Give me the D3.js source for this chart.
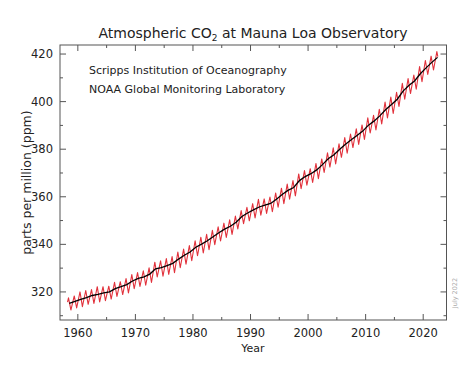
<!DOCTYPE html>
<html>
<head>
<meta charset="utf-8">
<script src="https://cdn.jsdelivr.net/npm/d3@7"></script>
<style>
  body { margin: 0; background: #fff; }
  text { font-family: "DejaVu Sans", sans-serif; }
</style>
</head>
<body>
<svg id="chart"></svg>
<script>
// yearly seasonal maximum (May) and minimum (Sep/Oct), ppm, from 1958
const years = d3.range(1958, 2023);
const peakMay = [317.5, 318.3, 320.0, 320.6, 321.0, 322.2, 322.2, 322.4, 324.0, 324.3,
  325.6, 327.3, 328.1, 328.9, 330.1, 332.5, 333.1, 334.0, 334.9, 336.8,
  338.0, 339.5, 341.5, 343.0, 344.2, 345.9, 347.4, 348.9, 350.3, 351.9,
  354.2, 355.6, 357.1, 358.9, 359.1, 359.9, 361.6, 363.6, 365.3, 366.8,
  369.6, 371.0, 371.8, 374.0, 375.9, 378.5, 380.6, 382.3, 384.9, 386.4,
  388.6, 390.2, 393.2, 394.2, 396.8, 399.8, 401.9, 403.9, 407.7, 409.7,
  411.2, 414.7, 417.3, 419.1, 421.0];
const troughOct = [312.4, 313.3, 313.8, 314.8, 315.2, 315.8, 316.3, 317.0, 318.1, 318.9,
  319.6, 321.4, 322.3, 322.8, 324.0, 326.3, 326.6, 327.4, 328.1, 330.2,
  331.7, 333.1, 335.2, 336.4, 337.8, 339.9, 341.4, 342.9, 344.2, 346.5,
  348.7, 349.9, 351.1, 352.3, 353.0, 353.7, 355.6, 357.1, 359.0, 360.4,
  363.4, 364.9, 366.0, 367.6, 370.2, 372.5, 373.8, 376.6, 378.3, 380.7,
  382.0, 384.1, 386.8, 388.1, 390.6, 393.1, 395.0, 398.0, 401.0, 403.4,
  405.2, 408.4, 411.4, 413.3];
// annual mean (trend), ppm
const annualMean = [315.2, 316.0, 316.9, 317.6, 318.5, 319.0, 319.6, 320.0, 321.4, 322.2,
  323.1, 324.6, 325.7, 326.3, 327.5, 329.7, 330.2, 331.1, 332.0, 333.8,
  335.4, 336.8, 338.8, 340.1, 341.5, 343.2, 344.9, 346.4, 347.6, 349.3,
  351.7, 353.2, 354.5, 355.7, 356.5, 357.2, 359.0, 361.0, 362.7, 363.9,
  366.8, 368.5, 369.7, 371.3, 373.5, 376.0, 377.7, 380.0, 382.1, 384.0,
  385.8, 387.6, 390.1, 391.9, 394.1, 396.7, 398.8, 401.0, 404.4, 406.8,
  408.7, 411.7, 414.2, 416.5, 418.6];
const startMar1958 = 315.7;
const endJul2022 = 418.9;
const xTicks = [1960, 1970, 1980, 1990, 2000, 2010, 2020];
const yTicks = [320, 340, 360, 380, 400, 420];

const W = 474, H = 379;
const margin = { top: 45, right: 27.5, bottom: 59, left: 60 };
const width = W - margin.left - margin.right;
const height = H - margin.top - margin.bottom;

const svg = d3.select('#chart').attr('width', W).attr('height', H);
const chart = svg.append('g').attr('transform', `translate(${margin.left},${margin.top})`);

const x = d3.scaleLinear().domain([1956.9, 2024.05]).range([0, width]);
const y = d3.scaleLinear().domain([308.2, 423.8]).range([height, 0]);

// build the seasonal zigzag from the peak/trough arrays
let seasonal = [[1958 + 2.5 / 12, startMar1958]];
years.forEach((yr, i) => {
  seasonal.push([yr + 4.5 / 12, peakMay[i]]);
  if (troughOct[i] !== undefined) seasonal.push([yr + 9.5 / 12, troughOct[i]]);
});
seasonal.push([2022 + 6.5 / 12, endJul2022]);
const trend = years.map((yr, i) => [yr + 0.5, annualMean[i]]);

const line = d3.line().x(d => x(d[0])).y(d => y(d[1]));

chart.append('path').datum(seasonal)
  .attr('fill', 'none').attr('stroke', '#e2323c').attr('stroke-width', 1.1)
  .attr('stroke-linejoin', 'round').attr('d', line);
chart.append('path').datum(trend)
  .attr('fill', 'none').attr('stroke', '#000').attr('stroke-width', 1.3)
  .attr('d', line);

// axes, IDL style: ticks inward on all four sides
const axisColor = '#555';
const xMinor = d3.range(1960, 2025, 5);
const yMinor = d3.range(310, 424, 10);

chart.append('rect').attr('width', width).attr('height', height)
  .attr('fill', 'none').attr('stroke', axisColor).attr('stroke-width', 1);

const ticks = chart.append('g').attr('stroke', axisColor).attr('stroke-width', 1);
xMinor.forEach(v => {
  const len = xTicks.includes(v) ? 6 : 3;
  ticks.append('line').attr('x1', x(v)).attr('x2', x(v)).attr('y1', height).attr('y2', height - len);
  ticks.append('line').attr('x1', x(v)).attr('x2', x(v)).attr('y1', 0).attr('y2', len);
});
yMinor.forEach(v => {
  const len = yTicks.includes(v) ? 6 : 3;
  ticks.append('line').attr('y1', y(v)).attr('y2', y(v)).attr('x1', 0).attr('x2', len);
  ticks.append('line').attr('y1', y(v)).attr('y2', y(v)).attr('x1', width).attr('x2', width - len);
});

chart.selectAll('.xlab').data(xTicks).join('text')
  .attr('x', d => x(d)).attr('y', height + 17)
  .attr('text-anchor', 'middle').attr('font-size', 11.5).attr('fill', '#222')
  .text(d => d);
chart.selectAll('.ylab').data(yTicks).join('text')
  .attr('x', -7).attr('y', d => y(d) + 4)
  .attr('text-anchor', 'end').attr('font-size', 11.5).attr('fill', '#222')
  .text(d => d);

// titles and labels
const title = svg.append('text').attr('x', 253).attr('y', 38)
  .attr('text-anchor', 'middle').attr('font-size', 14).attr('fill', '#222');
title.append('tspan').text('Atmospheric CO');
title.append('tspan').attr('font-size', 9).attr('dy', 3).text('2');
title.append('tspan').attr('dy', -3).text(' at Mauna Loa Observatory');

svg.append('text').attr('x', 89).attr('y', 74).attr('font-size', 11).attr('fill', '#222')
  .text('Scripps Institution of Oceanography');
svg.append('text').attr('x', 89).attr('y', 93).attr('font-size', 11).attr('fill', '#222')
  .text('NOAA Global Monitoring Laboratory');

svg.append('text').attr('x', 253).attr('y', 352)
  .attr('text-anchor', 'middle').attr('font-size', 11).attr('fill', '#222').text('Year');
svg.append('text')
  .attr('transform', `translate(31,${margin.top + height / 2}) rotate(-90)`)
  .attr('text-anchor', 'middle').attr('font-size', 12.5).attr('fill', '#222')
  .text('parts per million (ppm)');
svg.append('text')
  .attr('transform', `translate(457,293) rotate(-90)`)
  .attr('text-anchor', 'middle').attr('font-size', 6.5).attr('fill', '#aaa')
  .text('July 2022');
</script>
</body>
</html>
